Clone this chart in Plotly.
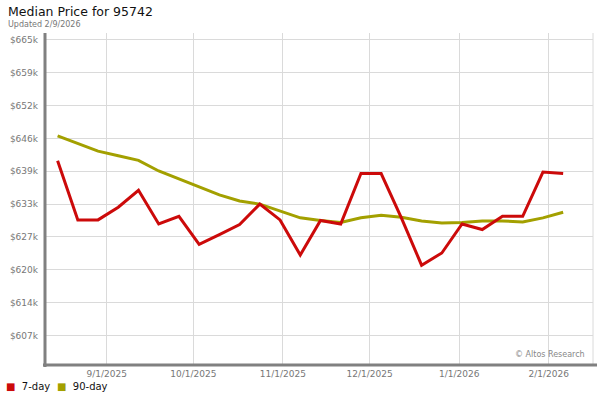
import plotly.graph_objects as go

dates = ["2025-08-15", "2025-08-22", "2025-08-29", "2025-09-05", "2025-09-12",
         "2025-09-19", "2025-09-26", "2025-10-03", "2025-10-10", "2025-10-17",
         "2025-10-24", "2025-10-31", "2025-11-07", "2025-11-14", "2025-11-21",
         "2025-11-28", "2025-12-05", "2025-12-12", "2025-12-19", "2025-12-26",
         "2026-01-02", "2026-01-09", "2026-01-16", "2026-01-23", "2026-01-30",
         "2026-02-06"]

price_7day = [641500, 629900, 629900, 632400, 635700, 629100, 630600, 625100,
              627000, 629000, 633000, 629900, 623000, 629800, 629100, 639000,
              639000, 630300, 621000, 623400, 629100, 628000, 630600, 630600,
              639300, 639000]

price_90day = [646400, 644900, 643400, 642500, 641600, 639500, 638000, 636400,
               634800, 633600, 633000, 631600, 630300, 629800, 629400, 630300,
               630800, 630400, 629700, 629300, 629400, 629700, 629700, 629500,
               630300, 631400]

y_tick_vals = [607200, 613650, 620100, 626550, 633000, 639450, 645900, 652350,
               658800, 665250]
y_tick_text = ["$607k", "$614k", "$620k", "$627k", "$633k", "$639k", "$646k",
               "$652k", "$659k", "$665k"]

x_tick_vals = ["2025-09-01", "2025-10-01", "2025-11-01", "2025-12-01",
               "2026-01-01", "2026-02-01"]
x_tick_text = ["9/1/2025", "10/1/2025", "11/1/2025", "12/1/2025", "1/1/2026",
               "2/1/2026"]

RED = "#cc0a0a"
OLIVE = "#a3a000"
FONT = "DejaVu Sans"

fig = go.Figure()
fig.add_trace(go.Scatter(x=dates, y=price_90day, mode="lines", name="90-day",
                         line=dict(color=OLIVE, width=3), showlegend=False))
fig.add_trace(go.Scatter(x=dates, y=price_7day, mode="lines", name="7-day",
                         line=dict(color=RED, width=3), showlegend=False))

L, R, T, B = 45, 7, 33, 36
W, H = 600, 400
pw, ph = W - L - R, H - T - B


def px(x):
    return (x - L) / pw


def py(y):
    return (H - B - y) / ph


fig.update_layout(
    width=W, height=H,
    margin=dict(l=L, r=R, t=T, b=B, pad=0),
    paper_bgcolor="white", plot_bgcolor="white",
    font=dict(family=FONT, size=9, color="#777777"),
    showlegend=False,
    xaxis=dict(
        type="date",
        range=["2025-08-10 15:20", "2026-02-16 08:00"],
        tickvals=x_tick_vals, ticktext=x_tick_text,
        showgrid=True, gridcolor="#dadada", gridwidth=1,
        showline=False, zeroline=False, ticks="",
        automargin=False,
        ticklabelstandoff=3,
        tickfont=dict(family=FONT, size=9, color="#777777"),
    ),
    yaxis=dict(
        range=[601600, 666600],
        tickvals=y_tick_vals, ticktext=y_tick_text,
        showgrid=True, gridcolor="#dadada", gridwidth=1,
        showline=False, zeroline=False, ticks="",
        automargin=False,
        ticklabelstandoff=6,
        tickfont=dict(family=FONT, size=9, color="#777777"),
    ),
)

shapes = [
    dict(type="line", xref="paper", yref="paper", x0=1, x1=1, y0=0, y1=1,
         line=dict(color="#dadada", width=1)),
    dict(type="line", xref="paper", yref="paper", x0=0, x1=0, y0=py(367), y1=1,
         line=dict(color="#808080", width=3)),
    dict(type="line", xref="paper", yref="paper", x0=px(43), x1=px(597),
         y0=py(365), y1=py(365), line=dict(color="#808080", width=3)),
]
fig.update_layout(shapes=shapes)

annotations = [
    dict(text="Median Price for 95742", xref="paper", yref="paper",
         x=px(6), y=py(12), xanchor="left", yanchor="middle", showarrow=False,
         font=dict(family=FONT, size=12.5, color="#111111")),
    dict(text="Updated 2/9/2026", xref="paper", yref="paper",
         x=px(6), y=py(25), xanchor="left", yanchor="middle", showarrow=False,
         font=dict(family=FONT, size=8, color="#777777")),
    dict(text="© Altos Research", xref="paper", yref="paper",
         x=px(587), y=py(354), xanchor="right", yanchor="middle",
         showarrow=False, font=dict(family=FONT, size=8, color="#888888")),
    dict(text=f"<span style='color:{RED}'>■</span>  7-day", xref="paper",
         yref="paper", x=px(4), y=py(386), xanchor="left", yanchor="middle",
         showarrow=False, font=dict(family=FONT, size=10, color="#111111")),
    dict(text=f"<span style='color:{OLIVE}'>■</span>  90-day", xref="paper",
         yref="paper", x=px(55), y=py(386), xanchor="left", yanchor="middle",
         showarrow=False, font=dict(family=FONT, size=10, color="#111111")),
]
fig.update_layout(annotations=annotations)

fig.write_html("out.html",
               config={"displayModeBar": False},
               post_script="document.body.style.margin='0';"
                           "document.body.style.padding='0';")
